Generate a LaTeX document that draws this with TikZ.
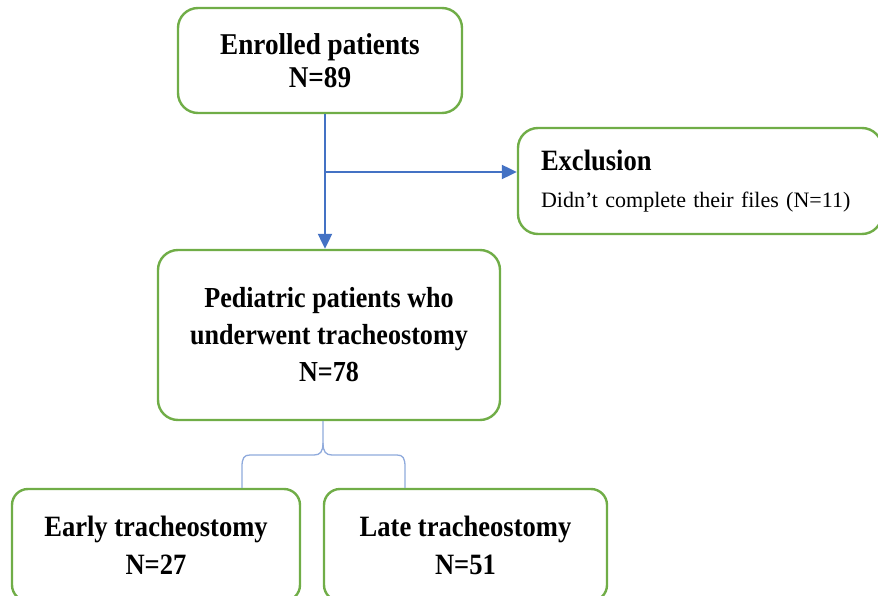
\documentclass[tikz,border=0pt]{standalone}
\usepackage{fontspec}
\setmainfont{Liberation Serif}
\newfontfamily\condserif[FakeStretch=0.9]{Liberation Serif}
\usetikzlibrary{arrows.meta,calc}
\definecolor{boxgreen}{HTML}{70AD47}
\definecolor{arrowblue}{HTML}{4472C4}
\definecolor{braceblue}{HTML}{8FAADC}
\begin{document}
\begin{tikzpicture}[x=1pt,y=1pt,
  flowbox/.style={draw=boxgreen,line width=2.4pt,rounded corners=20pt,fill=white,align=center,inner sep=0pt,
    font=\condserif\fontsize{29.5}{34}\selectfont\bfseries},
  flowarrow/.style={draw=arrowblue,line width=2.2pt,-{Triangle[length=15pt,width=14pt]}},
  bracestyle/.style={draw=braceblue,line width=1.3pt}]
\useasboundingbox (0,0) rectangle (878,-596);
\begin{scope}
\clip (0,0) rectangle (878,-596);
\node[flowbox,minimum width=284pt,minimum height=105pt,font=\condserif\fontsize{30.2}{33}\selectfont\bfseries] (enrolled) at (320,-60.5) {Enrolled patients\\N=89};
\node[flowbox,minimum width=364pt,minimum height=106pt,text width=318pt,align=left,font=\fontsize{22}{37}\selectfont] (excl) at (700,-181)
  {{\condserif\fontsize{29.5}{30}\selectfont\bfseries Exclusion}\\Didn’t complete their files (N=11)};
\node[flowbox,minimum width=342pt,minimum height=170pt,font=\condserif\fontsize{29}{37}\selectfont\bfseries] (ped) at (329,-335) {Pediatric patients who\\underwent tracheostomy\\N=78};
\node[flowbox,minimum width=288pt,minimum height=112pt,rounded corners=16pt,font=\condserif\fontsize{29.5}{38}\selectfont\bfseries] (early) at (156,-545) {Early tracheostomy\\N=27};
\node[flowbox,minimum width=283pt,minimum height=112pt,rounded corners=16pt,font=\condserif\fontsize{29.5}{38}\selectfont\bfseries] (late) at (465.5,-545) {Late tracheostomy\\N=51};
\end{scope}
\coordinate (vx) at (325,-172);
\draw[flowarrow] (vx |- enrolled.south) -- (vx |- ped.north);
\draw[flowarrow] (vx) -- (vx -| excl.west);
\coordinate (bc) at (323,-455);
\coordinate (bl) at (242,-455);
\coordinate (br) at (405,-455);
\draw[bracestyle] (bc |- ped.south) -- ($(bc)+(0,12)$) .. controls ($(bc)+(0,3)$) and ($(bc)+(-3,0)$) .. ($(bc)+(-9,0)$)
  -- ($(bl)+(8,0)$) .. controls ($(bl)+(2,0)$) and ($(bl)+(0,-3)$) .. ($(bl)+(0,-12)$) -- (bl |- early.north);
\draw[bracestyle] ($(bc)+(0,12)$) .. controls ($(bc)+(0,3)$) and ($(bc)+(3,0)$) .. ($(bc)+(9,0)$)
  -- ($(br)+(-8,0)$) .. controls ($(br)+(-2,0)$) and ($(br)+(0,-3)$) .. ($(br)+(0,-12)$) -- (br |- late.north);
\end{tikzpicture}
\end{document}
